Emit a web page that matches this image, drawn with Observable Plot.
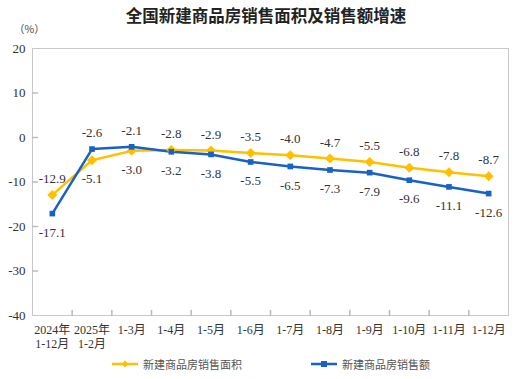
<!DOCTYPE html>
<html><head><meta charset="utf-8">
<script src="https://cdn.jsdelivr.net/npm/d3@7"></script>
<script src="https://cdn.jsdelivr.net/npm/@observablehq/plot@0.6"></script>
<style>
body{margin:0;background:#fff;width:525px;height:379px;overflow:hidden;font-family:"Noto Sans CJK SC",sans-serif;position:relative;}
#title{height:28px;line-height:30px;text-align:center;font-size:16.5px;font-weight:bold;color:#222;padding-left:7px;}
#unit{position:absolute;left:14px;top:23px;font-size:10.5px;color:#444;line-height:12px;}
#legend{position:relative;height:20px;font-size:11px;color:#555;}
.lg{position:absolute;top:0;display:flex;align-items:center;height:18px;}
.lg svg{margin-right:5px}
</style></head>
<body>
<div id="title">全国新建商品房销售面积及销售额增速</div>
<div id="unit">（%）</div>
<div id="chart"></div>
<div id="legend"></div>
<script>
const categories = ["2024年\n1-12月","2025年\n1-2月","1-3月","1-4月","1-5月","1-6月","1-7月","1-8月","1-9月","1-10月","1-11月","1-12月"];
const areaGrowth = [-12.9,-5.1,-3.0,-2.8,-2.9,-3.5,-4.0,-4.7,-5.5,-6.8,-7.8,-8.7];
const salesGrowth = [-17.1,-2.6,-2.1,-3.2,-3.8,-5.5,-6.5,-7.3,-7.9,-9.6,-11.1,-12.6];
const seriesNames = ["新建商品房销售面积","新建商品房销售额"];
const yTicks = [20,10,0,-10,-20,-30,-40];
const colors = ["#FFC000","#1862C6"];

const data = [];
categories.forEach((c,i)=>{
  const a = areaGrowth[i], s = salesGrowth[i];
  data.push({i, series:seriesNames[0], v:a, pos: a>=s ? "above":"below"});
  data.push({i, series:seriesNames[1], v:s, pos: s>a ? "above":"below"});
});
const idx = d3.range(categories.length);
const bounds = d3.range(0.5, categories.length-1, 1);
const serif = "'Liberation Serif','Times New Roman','Noto Sans CJK SC',serif";
const lineShape = {draw(ctx, l){ ctx.moveTo(0,0); ctx.lineTo(0,-l); }};

const chart = Plot.plot({
  width:525, height:327,
  marginTop:20, marginLeft:32, marginRight:17, marginBottom:40,
  style:{fontFamily:serif, fontSize:"13px", color:"#333", background:"#fff"},
  x:{type:"linear", domain:[-0.5, categories.length-0.5]},
  y:{domain:[-40,20]},
  color:{domain:seriesNames, range:colors},
  marks:[
    Plot.frame({stroke:"#c8c8c8"}),
    Plot.axisY({ticks:yTicks, tickSize:0, tickPadding:7, tickFormat:d=>d, label:null, fontSize:13, fill:"#333"}),
    Plot.vector(yTicks.slice(1,-1), {y:d=>d, frameAnchor:"left", rotate:90, length:5, anchor:"start", shape:lineShape, stroke:"#bbb"}),
    Plot.axisX({ticks:idx, tickSize:0, tickPadding:8, tickFormat:i=>categories[i], label:null, fontSize:12, lineHeight:1.2, fill:"#333"}),
    Plot.vector(bounds, {x:d=>d, frameAnchor:"bottom", rotate:0, length:5, anchor:"start", shape:lineShape, stroke:"#bbb"}),
    Plot.line(data, {x:"i", y:"v", z:"series", stroke:"series", strokeWidth:2.5}),
    Plot.dot(data.filter(d=>d.series===seriesNames[0]), {x:"i", y:"v", symbol:"diamond2", fill:colors[0], r:4.5}),
    Plot.dot(data.filter(d=>d.series===seriesNames[1]), {x:"i", y:"v", symbol:"square2", fill:colors[1], r:3.6}),
    Plot.text(data.filter(d=>d.pos==="above"), {x:"i", y:"v", text:d=>d.v.toFixed(1), dy:-16, fontSize:13, fill:"#333"}),
    Plot.text(data.filter(d=>d.pos==="below"), {x:"i", y:"v", text:d=>d.v.toFixed(1), dy:19, fontSize:13, fill:"#333"})
  ]
});
document.getElementById("chart").appendChild(chart);

const lg = document.getElementById("legend");
const lefts = [112, 311];
seriesNames.forEach((n,k)=>{
  const el = document.createElement("div");
  el.className="lg"; el.style.left = lefts[k]+"px";
  const marker = k===0
    ? `<polygon points="13,1.5 16.5,5 13,8.5 9.5,5" fill="${colors[0]}"/>`
    : `<rect x="10" y="2" width="6" height="6" fill="${colors[1]}"/>`;
  el.innerHTML = `<svg width="26" height="10"><line x1="0" x2="26" y1="5" y2="5" stroke="${colors[k]}" stroke-width="2.5"/>${marker}</svg><span>${n}</span>`;
  lg.appendChild(el);
});
</script>
</body></html>
